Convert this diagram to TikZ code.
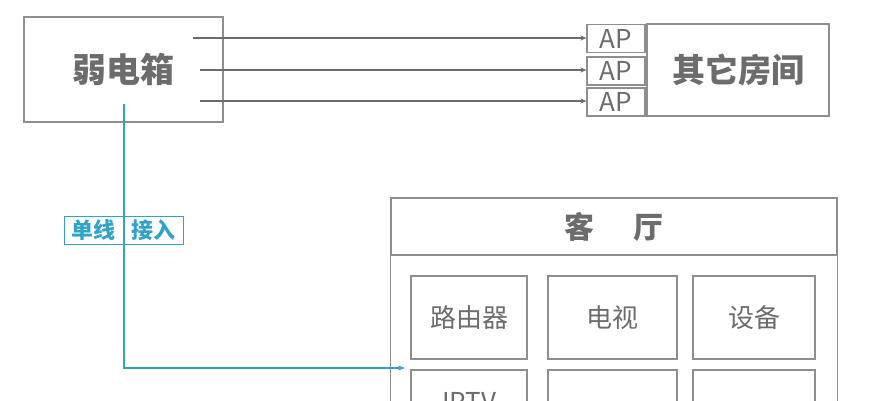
\documentclass[tikz,border=0pt]{standalone}
\usepackage{fontspec}
\newfontfamily\cjk{Noto Sans CJK SC}
\usepackage{tikz}
\usetikzlibrary{calc}
\usetikzlibrary{arrows.meta}
\definecolor{boxgray}{HTML}{8E8E8E}
\definecolor{textgray}{HTML}{6C6C6C}
\definecolor{linkteal}{HTML}{2FA4C8}
\tikzset{
	% Node styles: plain gray box, teal tag, and the two kinds of link
	gray box/.style={rectangle,draw=boxgray,line width=1.1pt,text=textgray,inner sep=0},
	teal tag/.style={rectangle,draw=linkteal,line width=0.8pt,text=linkteal,inner sep=0,font=\cjk\bfseries\fontsize{22}{22}\selectfont},
	gray link/.style={draw=textgray,line width=1.4pt,-{Stealth[length=6pt,width=5pt]}},
	teal link/.style={draw=linkteal,line width=2pt,-{Stealth[length=7pt,width=5pt]}}
}
\begin{document}
\begin{tikzpicture}[x=1pt,y=-1pt,font=\cjk]
			% macro for the device boxes in the living room
			\newcommand{\devbox}[4]{\node(#1)[gray box,minimum width=#3,minimum height=83,font=\cjk\fontsize{26}{26}\selectfont]at(#2){#4};}
			\clip(0,0)rectangle(894,400);
			
			% weak current box and the other rooms
			\node(box)[gray box,minimum width=199,minimum height=105,font=\cjk\bfseries\fontsize{34}{34}\selectfont]at(123.5,69.5){弱电箱};
			\node(ap1)[gray box,minimum width=58,minimum height=28,font=\cjk\fontsize{26}{26}\selectfont]at(616,38.5){AP};
			\node(ap2)[gray box,minimum width=58,minimum height=28,font=\cjk\fontsize{26}{26}\selectfont]at(616,71){AP};
			\node(ap3)[gray box,minimum width=58,minimum height=28,font=\cjk\fontsize{26}{26}\selectfont]at(616,102){AP};
			\node(rooms)[gray box,minimum width=182,minimum height=92,font=\cjk\bfseries\fontsize{33}{33}\selectfont]at(738,70){其它房间};
			
			\coordinate(s1)at(193,38);
			\coordinate(s2)at(200,70);
			\coordinate(s3)at(200,101);
			\draw[gray link](s1)--(s1-|ap1.west);
			\draw[gray link](s2)--(s2-|ap2.west);
			\draw[gray link](s3)--(s3-|ap3.west);
			
			% living room
			\node(hall)[gray box,minimum width=446,minimum height=57,font=\cjk\bfseries\fontsize{30}{30}\selectfont]at(614,226.5){客\hspace{40pt}厅};
			\draw[draw=boxgray,line width=1.1pt](hall.south west)rectangle($(hall.south east)+(0,300)$);
			
			\devbox{router}{469,317.5}{116}{路由器}
			\devbox{tv}{612.5,317.5}{129}{电视}
			\devbox{dev}{754,317.5}{122}{设备}
			\devbox{iptv}{469,411.5}{116}{\raisebox{20pt}{IPTV}}
			\devbox{empty1}{612.5,411.5}{129}{}
			\devbox{empty2}{754,411.5}{122}{}
			
			% single line into the living room
			\coordinate(tap)at(124,104);
			\coordinate(hallin)at(405,368);
			\draw[teal link](tap)|-(hallin);
			\node(tag)[teal tag,minimum width=119,minimum height=28]at(123.5,230){单线\hspace{17pt}接入};
		\end{tikzpicture}
\end{document}
